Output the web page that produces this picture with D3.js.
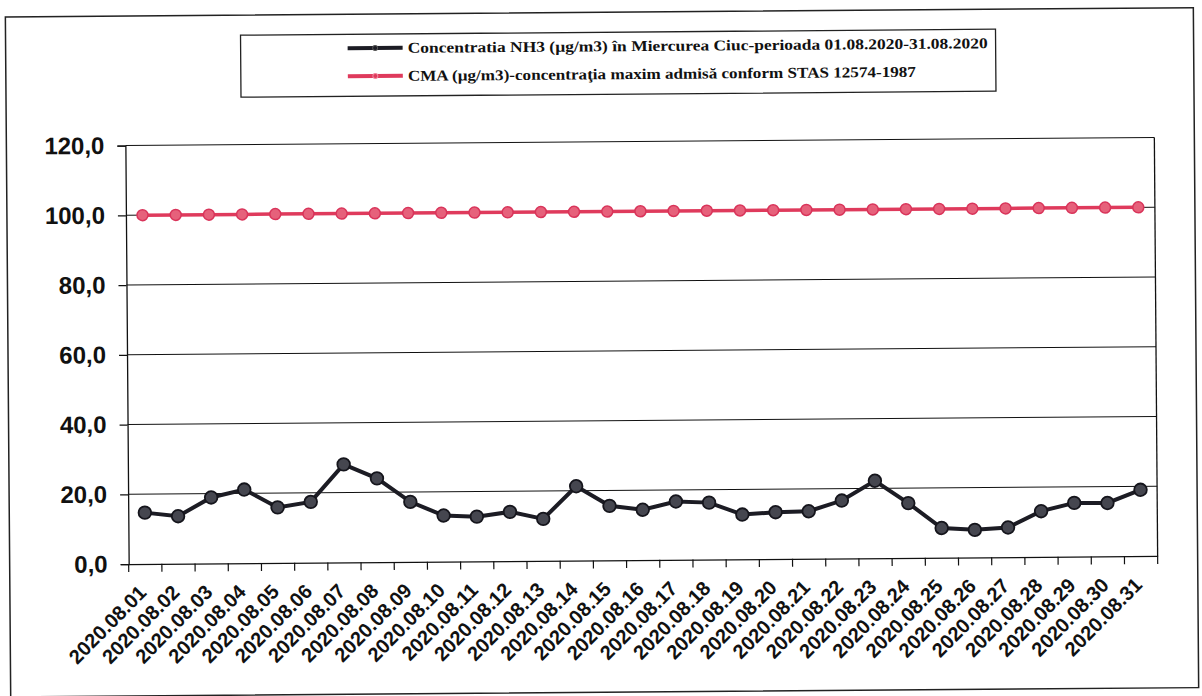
<!DOCTYPE html>
<html>
<head>
<meta charset="utf-8">
<script src="https://cdn.jsdelivr.net/npm/d3@7"></script>
<style>
  body { margin: 0; background: #fff; }
  svg { display: block; }
</style>
</head>
<body>
<script>
// days of August 2020
const days = ['2020.08.01', '2020.08.02', '2020.08.03', '2020.08.04', '2020.08.05', '2020.08.06',
  '2020.08.07', '2020.08.08', '2020.08.09', '2020.08.10', '2020.08.11', '2020.08.12', '2020.08.13',
  '2020.08.14', '2020.08.15', '2020.08.16', '2020.08.17', '2020.08.18', '2020.08.19', '2020.08.20',
  '2020.08.21', '2020.08.22', '2020.08.23', '2020.08.24', '2020.08.25', '2020.08.26', '2020.08.27',
  '2020.08.28', '2020.08.29', '2020.08.30', '2020.08.31'];

// NH3 concentration (µg/m3)
const nh3 = [14.7, 13.6, 18.9, 21.1, 15.9, 17.4, 28.1, 24.0, 17.2, 13.2, 12.8, 14.1, 12.0,
  21.3, 15.6, 14.4, 16.7, 16.3, 12.8, 13.4, 13.6, 16.6, 22.2, 15.7, 8.5, 7.9, 8.5,
  13.1, 15.4, 15.3, 19.0];

// CMA limit
const cma = days.map(() => 100);

const yTicks = [0, 20, 40, 60, 80, 100, 120];

const legendLabels = [
  'Concentratia NH3 (µg/m3) în Miercurea Ciuc-perioada 01.08.2020-31.08.2020',
  'CMA (µg/m3)-concentraţia maxim admisă conform STAS 12574-1987'
];

const width = 1202;
const height = 696;
const plotLeft = 127, plotRight = 1156, plotTop = 141.5, plotBottom = 560;

const svg = d3.select('body').append('svg')
  .attr('width', width)
  .attr('height', height);

// the scanned page is slightly tilted
const root = svg.append('g')
  .attr('transform', 'rotate(-0.45, 641, 350)');

root.append('rect')
  .attr('x', 8).attr('y', 12)
  .attr('width', 1188).attr('height', 680)
  .attr('fill', 'none')
  .attr('stroke', '#222')
  .attr('stroke-width', 1.5);

const x = d3.scaleBand().domain(days).range([plotLeft, plotRight]);
const y = d3.scaleLinear().domain([0, 120]).range([plotBottom, plotTop]);

// gridlines
root.append('g')
  .selectAll('line')
  .data(yTicks.slice(1))
  .join('line')
  .attr('x1', plotLeft).attr('x2', plotRight)
  .attr('y1', (d) => y(d)).attr('y2', (d) => y(d))
  .attr('stroke', '#111')
  .attr('stroke-width', 1.1);

// right border
root.append('line')
  .attr('x1', plotRight).attr('x2', plotRight)
  .attr('y1', plotTop).attr('y2', plotBottom)
  .attr('stroke', '#111')
  .attr('stroke-width', 1.3);

const yAxis = d3.axisLeft(y)
  .tickValues(yTicks)
  .tickSize(8)
  .tickPadding(13)
  .tickFormat((d) => d3.format('.1f')(d).replace('.', ','));

root.append('g')
  .attr('transform', `translate(${plotLeft}, 0)`)
  .call(yAxis)
  .call((g) => g.selectAll('line, path').attr('stroke', '#111').attr('stroke-width', 1.3))
  .call((g) => g.selectAll('text')
    .attr('fill', '#111')
    .attr('font-family', '"Liberation Sans", Arial, sans-serif')
    .attr('font-weight', 'bold')
    .attr('font-size', 24));

// bottom axis: ticks on category boundaries
const xAxis = d3.axisBottom(x).tickSize(0).tickFormat('');
root.append('g')
  .attr('transform', `translate(0, ${plotBottom})`)
  .call(xAxis)
  .call((g) => g.select('.domain').attr('stroke', '#111').attr('stroke-width', 1.3));

root.append('g')
  .selectAll('line')
  .data(days.concat(['end']))
  .join('line')
  .attr('x1', (d, i) => plotLeft + i * x.step())
  .attr('x2', (d, i) => plotLeft + i * x.step())
  .attr('y1', plotBottom).attr('y2', plotBottom + 8)
  .attr('stroke', '#111')
  .attr('stroke-width', 1.2);

root.append('g')
  .selectAll('text')
  .data(days)
  .join('text')
  .attr('transform', (d) => `translate(${x(d) + x.bandwidth() / 2 + 2}, 590) rotate(-45)`)
  .attr('text-anchor', 'end')
  .attr('font-family', '"Liberation Sans", Arial, sans-serif')
  .attr('font-weight', 'bold')
  .attr('font-size', 20)
  .attr('fill', '#111')
  .text((d) => d);

const cx = (d, i) => x(days[i]) + x.bandwidth() / 2;

const line = d3.line()
  .x((d, i) => cx(d, i))
  .y((d) => y(d));

// CMA
root.append('path')
  .datum(cma)
  .attr('d', line)
  .attr('fill', 'none')
  .attr('stroke', '#df3a5c')
  .attr('stroke-width', 3.5);

root.append('g')
  .selectAll('circle')
  .data(cma)
  .join('circle')
  .attr('cx', cx)
  .attr('cy', (d) => y(d))
  .attr('r', 5.5)
  .attr('fill', '#e6617b')
  .attr('stroke', '#d9345a')
  .attr('stroke-width', 1.5);

// NH3
root.append('path')
  .datum(nh3)
  .attr('d', line)
  .attr('fill', 'none')
  .attr('stroke', '#1c1c24')
  .attr('stroke-width', 4);

root.append('g')
  .selectAll('circle')
  .data(nh3)
  .join('circle')
  .attr('cx', cx)
  .attr('cy', (d) => y(d))
  .attr('r', 6.3)
  .attr('fill', '#45464f')
  .attr('stroke', '#15151c')
  .attr('stroke-width', 1.8);

// legend
const legend = root.append('g');
legend.append('rect')
  .attr('x', 243).attr('y', 32)
  .attr('width', 755).attr('height', 62)
  .attr('fill', '#fff')
  .attr('stroke', '#222')
  .attr('stroke-width', 1.3);

const legendColors = ['#1c1c24', '#df3a5c'];
const legendLengths = [580, 508];

legendLabels.forEach((label, i) => {
  const ly = 46 + i * 28;
  legend.append('line')
    .attr('x1', 350).attr('x2', 405)
    .attr('y1', ly).attr('y2', ly)
    .attr('stroke', legendColors[i])
    .attr('stroke-width', 4);
  legend.append('circle')
    .attr('cx', 377.5).attr('cy', ly)
    .attr('r', 2.5)
    .attr('fill', legendColors[i])
    .attr('stroke', i === 0 ? '#555' : '#f08aa0')
    .attr('stroke-width', 1);
  legend.append('text')
    .attr('x', 410).attr('y', ly + 5)
    .attr('font-family', '"Liberation Serif", "Times New Roman", serif')
    .attr('font-weight', 'bold')
    .attr('font-size', 15)
    .attr('fill', '#111')
    .attr('textLength', legendLengths[i])
    .attr('lengthAdjust', 'spacingAndGlyphs')
    .text(label);
});
</script>
</body>
</html>
